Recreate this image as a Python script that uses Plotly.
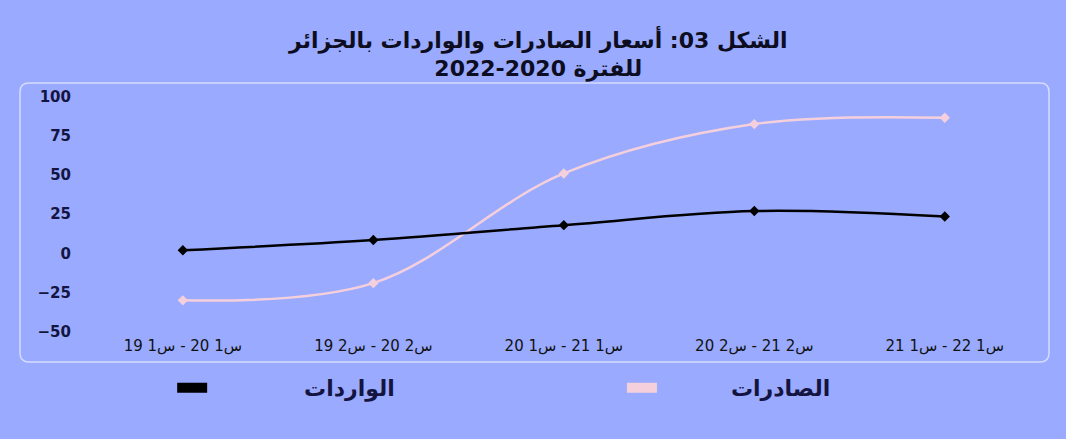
import plotly.graph_objects as go

categories = ["س1 20 - س1 19", "س2 20 - س2 19", "س1 21 - س1 20",
              "س2 21 - س2 20", "س1 22 - س1 21"]
exports = [-30, -19, 51, 82.5, 86.5]
imports = [2, 8.5, 18, 27, 23.5]
y_ticks = [-50, -25, 0, 25, 50, 75, 100]
series_names = ["الصادرات", "الواردات"]
title_text = "الشكل 03: أسعار الصادرات والواردات بالجزائر<br>للفترة 2020-2022"

BG = "#99AAFF"
PINK = "#F5D0DC"
BLACK = "#000000"
NAVY = "#141440"

W, H = 1066, 439
ML, MR, MT, MB = 80, 26, 94, 104
pw, ph = W - ML - MR, H - MT - MB


def px2paper(x, y):
    return (x - ML) / pw, (H - MB - y) / ph


def rounded_rect(x0, y0, x1, y1, r):
    ax0, ay0 = px2paper(x0, y0)
    ax1, ay1 = px2paper(x1, y1)
    rx, ry = r / pw, r / ph
    return (f"M {ax0+rx},{ay0} L {ax1-rx},{ay0} Q {ax1},{ay0} {ax1},{ay0-ry} "
            f"L {ax1},{ay1+ry} Q {ax1},{ay1} {ax1-rx},{ay1} "
            f"L {ax0+rx},{ay1} Q {ax0},{ay1} {ax0},{ay1+ry} "
            f"L {ax0},{ay0-ry} Q {ax0},{ay0} {ax0+rx},{ay0} Z")


NB = "\u00a0"

fig = go.Figure()
fig.add_trace(go.Scatter(x=categories, y=exports, mode="lines+markers",
                         line=dict(color=PINK, width=2.5, shape="spline", smoothing=1),
                         marker=dict(symbol="diamond", size=8, color=PINK),
                         name=series_names[0], showlegend=False))
fig.add_trace(go.Scatter(x=categories, y=imports, mode="lines+markers",
                         line=dict(color=BLACK, width=2.5, shape="spline", smoothing=1),
                         marker=dict(symbol="diamond", size=8, color=BLACK),
                         name=series_names[1], showlegend=False))
# legend entries (padding with no-break spaces to mimic the reference spacing)
fig.add_trace(go.Scatter(x=[None], y=[None], mode="lines",
                         line=dict(color=BLACK, width=13),
                         name=NB * 12 + series_names[1] + NB * 29))
fig.add_trace(go.Scatter(x=[None], y=[None], mode="lines",
                         line=dict(color=PINK, width=13),
                         name=NB * 9 + series_names[0]))

fig.update_layout(
    width=W, height=H,
    margin=dict(l=ML, r=MR, t=MT, b=MB),
    paper_bgcolor=BG, plot_bgcolor=BG,
    font=dict(family="DejaVu Sans", color=NAVY),
    title=dict(text=title_text, x=0.505, xref="container", xanchor="center",
               y=0.891, yref="container", yanchor="bottom",
               font=dict(size=22, color="#0d0d22", family="DejaVu Sans", weight="bold")),
    xaxis=dict(type="category", range=[-0.54, 4.5], showgrid=False, zeroline=False,
               showline=False, ticks="",
               tickfont=dict(size=15, color="#111111", family="DejaVu Sans")),
    yaxis=dict(range=[-52.1, 101.7], tickvals=y_ticks, showgrid=False, zeroline=False,
               showline=False, ticks="", ticklabelstandoff=8,
               tickfont=dict(size=15, color=NAVY, family="DejaVu Sans", weight="bold")),
    legend=dict(orientation="h", x=0.096, xanchor="left", y=-0.22, yanchor="middle",
                itemwidth=30, traceorder="normal",
                font=dict(size=22, color=NAVY, family="DejaVu Sans", weight="bold"),
                bgcolor="rgba(0,0,0,0)"),
    shapes=[dict(type="path", xref="paper", yref="paper",
                 path=rounded_rect(20, 83, 1049, 362, 9),
                 line=dict(color="rgba(235,235,255,0.75)", width=1.5),
                 fillcolor="rgba(0,0,0,0)", layer="below")],
)

fig.write_html("out.html")
